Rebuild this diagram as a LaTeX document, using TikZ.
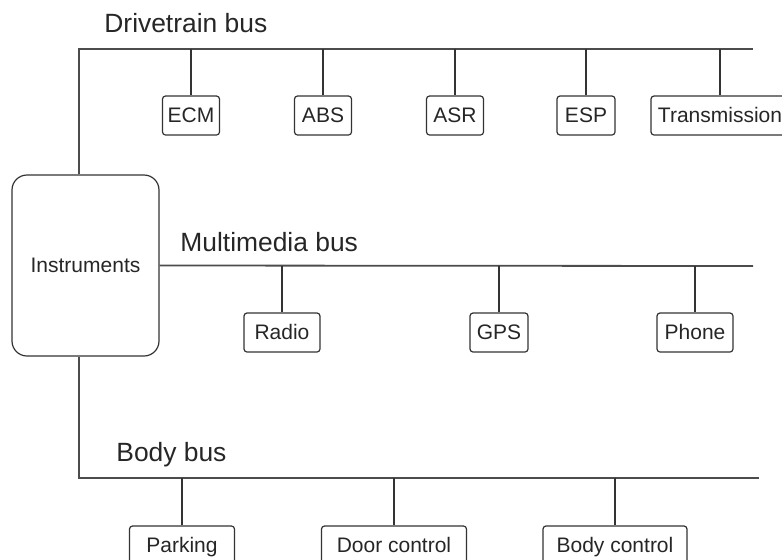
\documentclass[tikz,border=0pt]{standalone}
\usepackage{fontspec}
\setsansfont{Liberation Sans}
\usetikzlibrary{positioning}
\tikzset{
    ecu/.style={
        rectangle, rounded corners=1.5pt,
        draw=black!80, line width=0.6pt,
        minimum height=19.5pt, inner sep=0pt,
        text height=7.6pt, text depth=0.6pt,
        font=\sffamily\fontsize{10.5}{12}\selectfont, text=black!85
    },
    master/.style={
        ecu, rounded corners=7.5pt,
        minimum width=73.5pt, minimum height=90.5pt
    },
    buslabel/.style={
        anchor=base west, inner sep=0pt,
        font=\sffamily\fontsize{13.2}{15}\selectfont, text=black!85
    },
    bus/.style={draw=black!70, line width=0.9pt},
    drop/.style={draw=black!80, line width=0.6pt}
}
\begin{document}
\begin{tikzpicture}[x=0.5pt, y=-0.5pt]
    \useasboundingbox (0,0) rectangle (782,559);
    \clip (0,0) rectangle (782,559);

    \node[master] (inst) at (85.5,265.5) {Instruments};

    % bus end points
    \coordinate (dtw) at (79,49);
    \coordinate (dte) at (753,49);
    \coordinate (mme) at (753,266);
    \coordinate (bdw) at (79,478);
    \coordinate (bde) at (759,478);

    \node[buslabel] (dtlabel) at (104,32) {Drivetrain bus};
    \node[buslabel] (mmlabel) at (180,251) {Multimedia bus};
    \node[buslabel] (bdlabel) at (116,461) {Body bus};

    % drivetrain units
    \node[ecu, minimum width=28.5pt] (ecm) at (191,115.5) {ECM};
    \node[ecu, minimum width=28.5pt] (abs) at (323,115.5) {ABS};
    \node[ecu, minimum width=28.5pt] (asr) at (455,115.5) {ASR};
    \node[ecu, minimum width=29pt] (esp) at (586,115.5) {ESP};
    \node[ecu, minimum width=69pt] (trans) at (720,115.5) {Transmission};

    % multimedia units
    \node[ecu, minimum width=38pt] (radio) at (282,332.5) {Radio};
    \node[ecu, minimum width=29pt] (gps) at (499,332.5) {GPS};
    \node[ecu, minimum width=38pt] (phone) at (695,332.5) {Phone};

    % body units
    \node[ecu, minimum width=52.5pt] (park) at (182,545.5) {Parking};
    \node[ecu, minimum width=72.5pt] (door) at (394,545.5) {Door control};
    \node[ecu, minimum width=72pt] (bodyctl) at (615,545.5) {Body control};

    % buses
    \draw[bus] (dtw |- inst.north) -- (dtw) -- (dte);
    \draw[bus] (inst.east) -- (mme);
    \draw[bus] (bdw |- inst.south) -- (bdw) -- (bde);

    \draw[drop] (ecm.north) -- (ecm.north |- dtw);
    \draw[drop] (abs.north) -- (abs.north |- dtw);
    \draw[drop] (asr.north) -- (asr.north |- dtw);
    \draw[drop] (esp.north) -- (esp.north |- dtw);
    \draw[drop] (trans.north) -- (trans.north |- dtw);

    \draw[drop] (radio.north) -- (radio.north |- mme);
    \draw[drop] (gps.north) -- (gps.north |- mme);
    \draw[drop] (phone.north) -- (phone.north |- mme);

    \draw[drop] (park.north) -- (park.north |- bdw);
    \draw[drop] (door.north) -- (door.north |- bdw);
    \draw[drop] (bodyctl.north) -- (bodyctl.north |- bdw);
\end{tikzpicture}
\end{document}
